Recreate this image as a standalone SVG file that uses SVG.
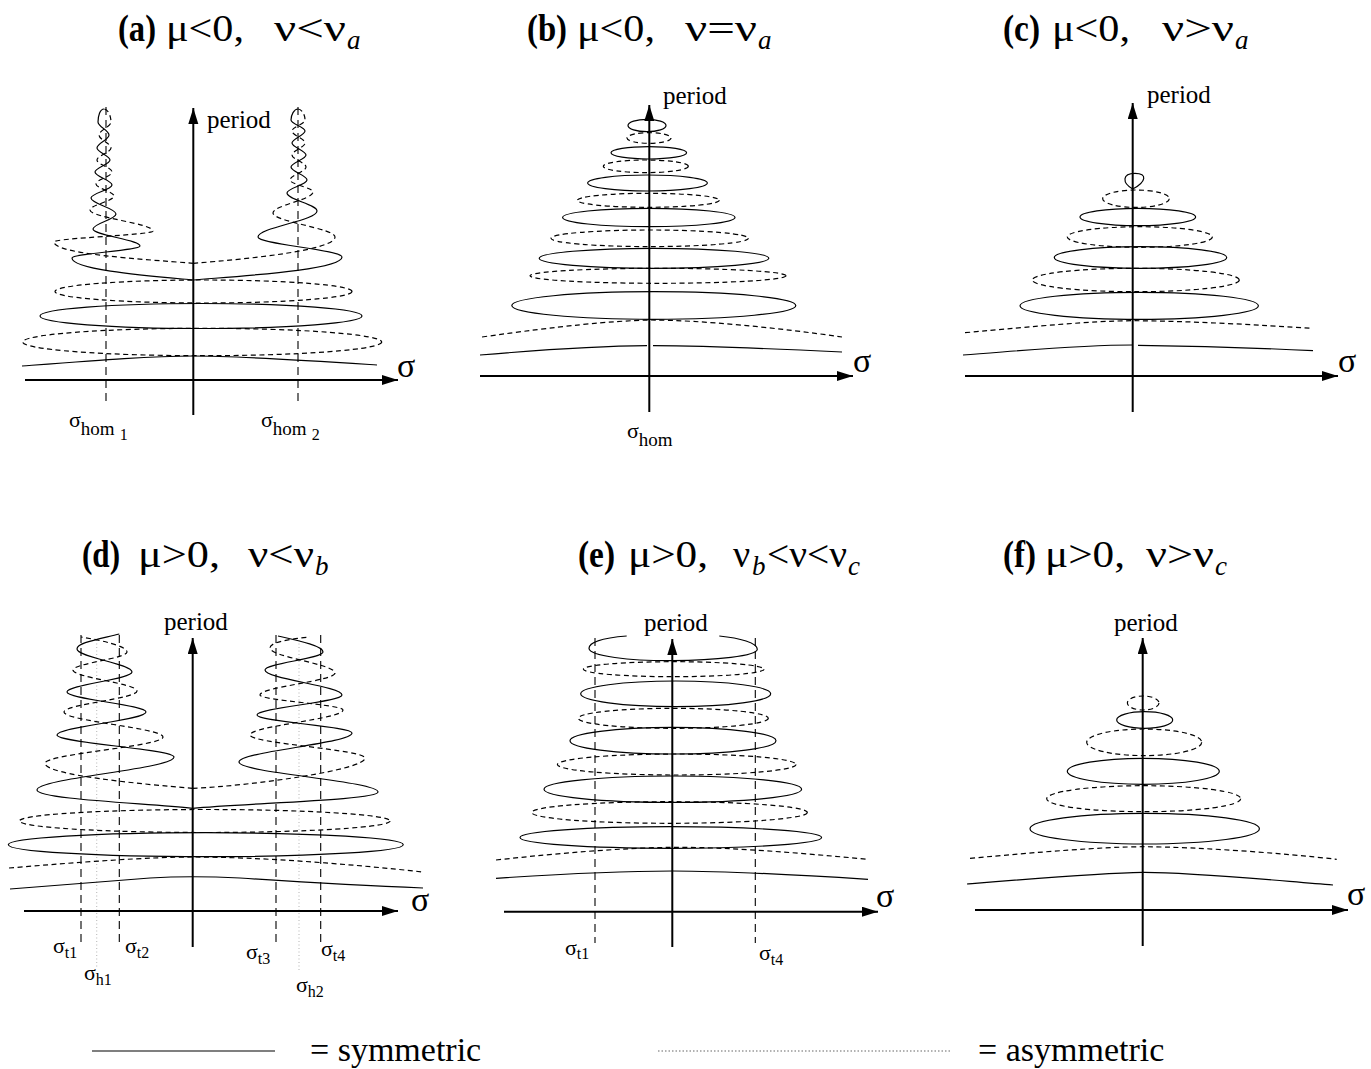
<svg xmlns="http://www.w3.org/2000/svg" width="1371" height="1069" viewBox="0 0 1371 1069">
<defs>
<marker id="ah" markerUnits="userSpaceOnUse" markerWidth="17" markerHeight="11" refX="16" refY="5" orient="auto"><path d="M0,0 L16,5 L0,10 z" fill="#000"/></marker>
<style>
.s{fill:none;stroke:#000;stroke-width:1.2}
.d{fill:none;stroke:#000;stroke-width:1.2;stroke-dasharray:5 3.5}
.v{fill:none;stroke:#000;stroke-width:1.1;stroke-dasharray:8 5}
.h{fill:none;stroke:#bbb;stroke-width:1.1;stroke-dasharray:1 2.5}
.ax{fill:none;stroke:#000;stroke-width:2;marker-end:url(#ah)}
.ttl{font-family:"Liberation Serif",serif;font-size:38px;fill:#000}
.b{font-weight:bold}
.sb{font-family:"Liberation Serif",serif;font-size:27px;font-style:italic;fill:#000}
.per{font-family:"Liberation Serif",serif;font-size:25px;fill:#000}
.sig{font-family:"Liberation Serif",serif;font-size:34px;fill:#000}
.lab{font-family:"Liberation Serif",serif;font-size:22px;fill:#000}
.leg{font-family:"Liberation Serif",serif;font-size:34px;fill:#000}
</style>
</defs>
<rect width="1371" height="1069" fill="#fff"/>

<!-- titles -->
<g id="titles">
<g id="title-a">
<text class="ttl b" x="118" y="41" textLength="38" lengthAdjust="spacingAndGlyphs">(a)</text>
<text class="ttl" x="166" y="41" textLength="78" lengthAdjust="spacingAndGlyphs">μ&lt;0,</text>
<text class="ttl" x="274" y="41" textLength="72" lengthAdjust="spacingAndGlyphs">ν&lt;ν</text>
<text class="sb" x="347" y="49">a</text>
</g>
<g id="title-b">
<text class="ttl b" x="527" y="41" textLength="40" lengthAdjust="spacingAndGlyphs">(b)</text>
<text class="ttl" x="577" y="41" textLength="78" lengthAdjust="spacingAndGlyphs">μ&lt;0,</text>
<text class="ttl" x="685" y="41" textLength="72" lengthAdjust="spacingAndGlyphs">ν=ν</text>
<text class="sb" x="758" y="49">a</text>
</g>
<g id="title-c">
<text class="ttl b" x="1003" y="41" textLength="37" lengthAdjust="spacingAndGlyphs">(c)</text>
<text class="ttl" x="1052" y="41" textLength="78" lengthAdjust="spacingAndGlyphs">μ&lt;0,</text>
<text class="ttl" x="1162" y="41" textLength="72" lengthAdjust="spacingAndGlyphs">ν&gt;ν</text>
<text class="sb" x="1235" y="49">a</text>
</g>
<g id="title-d">
<text class="ttl b" x="82" y="567" textLength="38" lengthAdjust="spacingAndGlyphs">(d)</text>
<text class="ttl" x="138" y="567" textLength="82" lengthAdjust="spacingAndGlyphs">μ&gt;0,</text>
<text class="ttl" x="248" y="567" textLength="66" lengthAdjust="spacingAndGlyphs">ν&lt;ν</text>
<text class="sb" x="315" y="575">b</text>
</g>
<g id="title-e">
<text class="ttl b" x="578" y="567" textLength="37" lengthAdjust="spacingAndGlyphs">(e)</text>
<text class="ttl" x="628" y="567" textLength="80" lengthAdjust="spacingAndGlyphs">μ&gt;0,</text>
<text class="ttl" x="733" y="567">ν</text>
<text class="sb" x="752" y="575">b</text>
<text class="ttl" x="767" y="567" textLength="80" lengthAdjust="spacingAndGlyphs">&lt;ν&lt;ν</text>
<text class="sb" x="848" y="575">c</text>
</g>
<g id="title-f">
<text class="ttl b" x="1003" y="567" textLength="33" lengthAdjust="spacingAndGlyphs">(f)</text>
<text class="ttl" x="1045" y="567" textLength="80" lengthAdjust="spacingAndGlyphs">μ&gt;0,</text>
<text class="ttl" x="1146" y="567" textLength="68" lengthAdjust="spacingAndGlyphs">ν&gt;ν</text>
<text class="sb" x="1215" y="575">c</text>
</g>
</g>

<!-- panel a -->
<g id="panel-a">
<path class="v" d="M106,107 L106,403 M298,107 L298,403"/>
<path class="s" d="M193.3,280 C150,276 72,270 72,258 C72,253.7 140,250.3 140,246 C140,239.9 93,235.1 93,229 C93,223.6 116,219.4 116,214 C116,208.2 91,203.8 91,198 C91,193.3 112,189.7 112,185 C112,180.3 95,176.7 95,172 C95,167.7 110,164.3 110,160 C110,155.7 97,152.3 97,148 C97,143.3 109,139.7 109,135 C109,130.3 98,126.7 98,122 C98,116 100,109 104,109"/>
<path class="d" d="M193.3,263.3 C140,259 54,254 54,242 C54,238 153,235 153,231 C153,223.4 90,217.6 90,210 C90,205 114,201 114,196 C114,191.7 96,188.3 96,184 C96,179.7 112,176.3 112,172 C112,167.7 97,164.3 97,160 C97,155.7 111,152.3 111,148 C111,143.3 99,139.7 99,135 C99,130.3 111,126.7 111,122 C111,116 108,109 104,109"/>
<path class="s" d="M193.3,280 C240,276 342,270 342,257 C342,249.8 258,244.2 258,237 C258,227.6 317,220.4 317,211 C317,204.5 287,199.5 287,193 C287,188.3 307,184.7 307,180 C307,175.3 291,171.7 291,167 C291,162.7 306,159.3 306,155 C306,150.7 292,147.3 292,143 C292,138.7 305,135.3 305,131 C305,127 291,124 291,120 C291,115 294,109 298,109"/>
<path class="d" d="M193.3,263.3 C250,259 335,250 335,237 C335,228.4 273,221.6 273,213 C273,205.4 313,199.6 313,192 C313,187.7 290,184.3 290,180 C290,175.3 306,171.7 306,167 C306,162.7 292,159.3 292,155 C292,150.7 305,147.3 305,143 C305,138.7 292,135.3 292,131 C292,127 305,124 305,120 C305,115 302,109 298,109"/>
<ellipse class="d" cx="203.5" cy="291.5" rx="148.5" ry="11.5"/>
<ellipse class="s" cx="201" cy="316" rx="161" ry="12.5"/>
<ellipse class="d" cx="202.2" cy="342" rx="179.5" ry="13.7"/>
<path class="s" d="M22,366 C100,360 150,356 193,356 C240,356 300,360 377,365"/>
<path class="ax" d="M193.3,415 L193.3,108"/>
<path class="ax" d="M25,380 L398,380"/>
<text class="per" x="207" y="128">period</text>
<text class="sig" x="397" y="377">σ</text>
<text class="lab" x="69" y="427">σ<tspan font-size="19" dy="8">hom</tspan><tspan font-size="16" dx="5" dy="5">1</tspan></text>
<text class="lab" x="261" y="427">σ<tspan font-size="19" dy="8">hom</tspan><tspan font-size="16" dx="5" dy="5">2</tspan></text>
</g>

<!-- panel b -->
<g id="panel-b">
<ellipse class="s" cx="647" cy="125.5" rx="19" ry="6.2"/>
<ellipse class="d" cx="649" cy="138" rx="22" ry="5.3"/>
<ellipse class="s" cx="648.8" cy="152.8" rx="37.8" ry="6.2"/>
<ellipse class="d" cx="645.8" cy="166.3" rx="42.5" ry="6.3"/>
<ellipse class="s" cx="647.5" cy="183" rx="59.8" ry="8"/>
<ellipse class="d" cx="648.3" cy="200.3" rx="71" ry="7"/>
<ellipse class="s" cx="648.8" cy="217.5" rx="86.2" ry="9.2"/>
<ellipse class="d" cx="649.7" cy="238.3" rx="98.7" ry="8.3"/>
<ellipse class="s" cx="654" cy="258.3" rx="114.8" ry="10"/>
<ellipse class="d" cx="658" cy="275.8" rx="128" ry="7.5"/>
<ellipse class="s" cx="653.8" cy="305.5" rx="142" ry="13.8"/>
<path class="d" d="M482,337 C560,326 610,321 650,320 C700,320 780,328 842,337"/>
<path class="s" d="M480,355 C540,350 600,346 647,345.7 M653,345.7 C700,346 780,349 842,352"/>
<path class="ax" d="M649.3,412 L649.3,105"/>
<path class="ax" d="M480,376 L853,376"/>
<text class="per" x="663" y="104">period</text>
<text class="sig" x="853" y="372">σ</text>
<text class="lab" x="627" y="438">σ<tspan font-size="19" dy="8">hom</tspan></text>
</g>

<!-- panel c -->
<g id="panel-c">
<path class="s" d="M1132.7,189 C1122,183 1122,173.3 1135,173.3 C1148,173.3 1146,182 1132.7,189 Z"/>
<ellipse class="d" cx="1136" cy="198.7" rx="33.3" ry="8.7"/>
<ellipse class="s" cx="1137.8" cy="217" rx="57.8" ry="8.7"/>
<ellipse class="d" cx="1139.8" cy="237" rx="72.5" ry="10.3"/>
<ellipse class="s" cx="1140.5" cy="257.5" rx="86.2" ry="10.8"/>
<ellipse class="d" cx="1135.8" cy="280" rx="103.5" ry="11.7"/>
<ellipse class="s" cx="1139.2" cy="305.8" rx="119.2" ry="13.5"/>
<path class="d" d="M965,332.7 C1040,326 1090,321 1133,320.7 C1190,321 1260,325 1312,328.3"/>
<path class="s" d="M963,355 C1030,350 1080,345 1132.7,345 M1138,345.3 C1200,346 1260,348 1313,350.7"/>
<path class="ax" d="M1132.7,412 L1132.7,103"/>
<path class="ax" d="M965,376 L1338,376"/>
<text class="per" x="1147" y="103">period</text>
<text class="sig" x="1338" y="372">σ</text>
</g>

<!-- panel d -->
<g id="panel-d">
<path class="v" d="M81,635 L81,943 M119.3,635 L119.3,943 M276,635 L276,943 M320.7,635 L320.7,945"/>
<path class="h" d="M96.7,640 L96.7,968 M299,640 L299,972"/>
<path class="s" d="M192.7,808.3 C140,803 37,799 37,790 C37,778.1 174,768.9 174,757 C174,749.1 57,742.9 57,735 C57,726.7 146,720.3 146,712 C146,704.8 67,699.2 67,692 C67,684.8 132,679.2 132,672 C132,663.7 77,657.3 77,649 C77,643 95,640 119.3,634"/>
<path class="d" d="M192.7,788.3 C140,784 45,775 45,763.3 C45,753.9 163,746.4 163,737 C163,728 64,721 64,712 C64,704.4 137,698.6 137,691 C137,683.4 73,677.6 73,670 C73,663.5 127,658.5 127,652 C127,646 100,640 81,637"/>
<path class="s" d="M192.7,808.3 C250,803 378,800 378,792 C378,781.2 239,772.8 239,762 C239,751.6 352,743.4 352,733 C352,726.5 257,721.5 257,715 C257,707.8 342,702.2 342,695 C342,686 265,679 265,670 C265,663.5 323,658.5 323,652 C323,646 300,641 278,636"/>
<path class="d" d="M192.7,788.3 C250,786 365,770 365,758 C365,749.7 250,743.3 250,735 C250,726 343,719 343,710 C343,704.6 260,700.4 260,695 C260,687.1 335,680.9 335,673 C335,664 270,657 270,648 C270,642 290,639 310,637"/>
<ellipse class="d" cx="204.7" cy="821" rx="185.3" ry="11.5"/>
<ellipse class="s" cx="205.8" cy="844.7" rx="197.5" ry="12"/>
<path class="d" d="M9,868 C80,862 150,857 193,857 C260,857 350,864 423,872"/>
<path class="s" d="M10,889 C70,884 110,881 150,878 C175,876.5 210,876.5 240,878 C300,882 370,886 423,888"/>
<path class="ax" d="M192.7,947 L192.7,638"/>
<path class="ax" d="M24,911 L398,911"/>
<text class="per" x="164" y="630">period</text>
<text class="sig" x="411" y="911">σ</text>
<text class="lab" font-size="20" x="53" y="953">σ<tspan font-size="16" dy="5">t1</tspan></text>
<text class="lab" font-size="20" x="125" y="953">σ<tspan font-size="16" dy="5">t2</tspan></text>
<text class="lab" font-size="20" x="84" y="980">σ<tspan font-size="16" dy="5">h1</tspan></text>
<text class="lab" font-size="20" x="246" y="959">σ<tspan font-size="16" dy="5">t3</tspan></text>
<text class="lab" font-size="20" x="321" y="956">σ<tspan font-size="16" dy="5">t4</tspan></text>
<text class="lab" font-size="20" x="296" y="992">σ<tspan font-size="16" dy="5">h2</tspan></text>
</g>

<!-- panel e -->
<g id="panel-e">
<path class="v" d="M595,638 L595,943 M755.3,638 L755.3,943"/>
<path class="s" d="M626.7,636 C600,638 589,643 589,648.3 C589,656 630,661 672.7,660.7 C715,660.5 757.3,656 757.3,649.3 C757.3,643 740,638 719.3,636"/>
<ellipse class="d" cx="673.7" cy="669.2" rx="90.3" ry="7.5"/>
<ellipse class="s" cx="675.7" cy="693.8" rx="95" ry="12.8"/>
<ellipse class="d" cx="673.3" cy="718.3" rx="95" ry="10"/>
<ellipse class="s" cx="673" cy="740.7" rx="103" ry="13.3"/>
<ellipse class="d" cx="676.7" cy="764.5" rx="119.3" ry="10.5"/>
<ellipse class="s" cx="672.8" cy="789.2" rx="128.8" ry="13.2"/>
<ellipse class="d" cx="669.5" cy="812.5" rx="137.8" ry="10.8"/>
<ellipse class="s" cx="670.8" cy="837.5" rx="150.8" ry="10.8"/>
<path class="d" d="M496,860 C560,853 620,848 672.7,847.3 C730,847 800,853 868,859.3"/>
<path class="s" d="M496,878.3 C560,874 620,871 672.7,871 C730,871 800,875 868,879.3"/>
<path class="ax" d="M672.3,947 L672.3,639"/>
<path class="ax" d="M504,911.7 L878,911.7"/>
<text class="per" x="644" y="631">period</text>
<text class="sig" x="876" y="907">σ</text>
<text class="lab" font-size="20" x="565" y="955">σ<tspan font-size="16" dy="4">t1</tspan></text>
<text class="lab" font-size="20" x="759" y="960">σ<tspan font-size="16" dy="5">t4</tspan></text>
</g>

<!-- panel f -->
<g id="panel-f">
<ellipse class="d" cx="1143.2" cy="703" rx="15.8" ry="7"/>
<ellipse class="s" cx="1144.7" cy="720" rx="28" ry="8.3"/>
<ellipse class="d" cx="1144.2" cy="742.3" rx="57.5" ry="13.3"/>
<ellipse class="s" cx="1143.3" cy="771.3" rx="76" ry="13"/>
<ellipse class="d" cx="1143.7" cy="798.7" rx="97" ry="13"/>
<ellipse class="s" cx="1144.7" cy="828.7" rx="114.7" ry="15.3"/>
<path class="d" d="M970,858.3 C1040,852 1100,847 1142.7,846.7 C1200,847 1280,853 1336.7,859.3"/>
<path class="s" d="M967,884 C1040,878 1100,873 1142.7,872.3 C1190,872 1270,880 1333,885"/>
<path class="ax" d="M1142.7,946 L1142.7,638"/>
<path class="ax" d="M975,910 L1348,910"/>
<text class="per" x="1114" y="631">period</text>
<text class="sig" x="1347" y="905">σ</text>
</g>

<!-- legend -->
<g id="legend">
<path d="M92,1051 L275,1051" stroke="#000" stroke-width="1.2"/>
<text class="leg" x="310" y="1061">= symmetric</text>
<path d="M658,1051 L950,1051" stroke="#666" stroke-width="1.2" stroke-dasharray="1.5 2"/>
<text class="leg" x="978" y="1061">= asymmetric</text>
</g>
</svg>
